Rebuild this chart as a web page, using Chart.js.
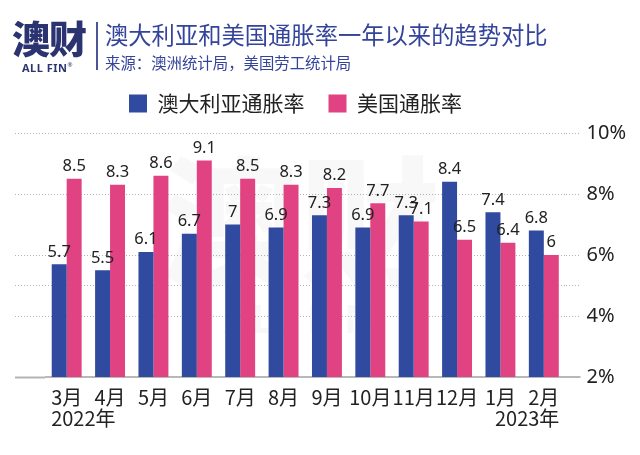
<!DOCTYPE html>
<html>
<head>
<meta charset="utf-8">
<script src="https://cdn.jsdelivr.net/npm/chart.js@4"></script>
<style>
  html, body { margin: 0; padding: 0; background: #fff; }
  #wrap { position: relative; width: 640px; height: 455px; overflow: hidden; font-family: "Noto Sans CJK SC", "Noto Sans", sans-serif; }
  #chart { position: absolute; left: 0; top: 0; }
  .logo { position: absolute; left: 12px; top: 12px; font-size: 38px; font-weight: 900; color: #2b3470; letter-spacing: -1px; line-height: 50px; }
  .logo-sub { position: absolute; left: 22px; top: 58px; font-family: "Noto Sans", sans-serif; font-size: 11px; font-weight: 700; color: #2b3470; line-height: 14px; letter-spacing: 0.5px; }
  .logo-sub sup { font-size: 6px; font-weight: 400; }
  .divider { position: absolute; left: 96px; top: 22px; width: 1.5px; height: 48px; background: #4a5598; }
  .title { position: absolute; left: 105px; top: 18px; font-size: 23.3px; color: #34449a; line-height: 32px; white-space: nowrap; }
  .subtitle { position: absolute; left: 105px; top: 51px; font-size: 15.4px; color: #34449a; line-height: 22px; white-space: nowrap; }
</style>
</head>
<body>
<div id="wrap">
  <canvas id="chart" width="640" height="455"></canvas>
  <div class="logo">澳财</div>
  <div class="logo-sub">ALL FIN<sup>®</sup></div>
  <div class="divider"></div>
  <div class="title">澳大利亚和美国通胀率一年以来的趋势对比</div>
  <div class="subtitle">来源：澳洲统计局，美国劳工统计局</div>
</div>
<script>
const months = ['3月', '4月', '5月', '6月', '7月', '8月', '9月', '10月', '11月', '12月', '1月', '2月'];
const yearLabels = ['2022年', '2023年'];
const seriesNames = ['澳大利亚通胀率', '美国通胀率'];
const australia = [5.7, 5.5, 6.1, 6.7, 7, 6.9, 7.3, 6.9, 7.3, 8.4, 7.4, 6.8];
const usa = [8.5, 8.3, 8.6, 9.1, 8.5, 8.3, 8.2, 7.7, 7.1, 6.5, 6.4, 6];
const gridValues = [2, 4, 5, 6, 8, 10];

const BLUE = '#2f4a9e';
const PINK = '#e04282';
const CJK = '"Noto Sans CJK SC", "Noto Sans", sans-serif';

// faint logo watermark behind the bars
const watermark = {
    id: 'watermark',
    beforeDatasetsDraw(chart) {
        const c = chart.ctx;
        c.save();
        c.fillStyle = 'rgba(0,0,0,0.028)';
        c.textAlign = 'center';
        c.textBaseline = 'middle';
        c.font = '900 140px ' + CJK;
        c.fillText('澳财', 300, 222);
        c.font = '700 40px "Noto Sans", sans-serif';
        c.fillText('ALL FIN', 300, 322);
        c.restore();
    }
};

// value labels above each bar
const valueLabels = {
    id: 'valueLabels',
    afterDatasetsDraw(chart) {
        const c = chart.ctx;
        c.save();
        c.fillStyle = '#222';
        c.font = '16.5px "Noto Sans", sans-serif';
        c.textAlign = 'center';
        c.textBaseline = 'bottom';
        chart.data.datasets.forEach((ds, i) => {
            chart.getDatasetMeta(i).data.forEach((bar, j) => {
                c.fillText(String(ds.data[j]), bar.x, bar.y - 4);
            });
        });
        c.restore();
    }
};

// year under first and last month
const yearTicks = {
    id: 'yearTicks',
    afterDraw(chart) {
        const x = chart.scales.x;
        const c = chart.ctx;
        c.save();
        c.fillStyle = '#222';
        c.font = '20px ' + CJK;
        c.textBaseline = 'middle';
        const y = x.top + 41;
        const first = x.getPixelForValue(0) - c.measureText(months[0]).width / 2;
        c.textAlign = 'left';
        c.fillText(yearLabels[0], first, y);
        const last = x.getPixelForValue(months.length - 1) + c.measureText(months[months.length - 1]).width / 2;
        c.textAlign = 'right';
        c.fillText(yearLabels[1], last, y);
        c.restore();
    }
};

// shift the legend so it sits where the original has it
const legendShift = {
    id: 'legendShift',
    afterLayout(chart) {
        const lg = chart.legend;
        const w = lg.right - lg.left;
        lg.left = 129 - 24;
        lg.right = lg.left + w;
        lg.top -= 9;
        lg.bottom -= 9;
    }
};

const gridOn = (v) => gridValues.includes(v);

new Chart(document.getElementById('chart'), {
    type: 'bar',
    data: {
        labels: months,
        datasets: [
            { label: seriesNames[0], data: australia, backgroundColor: BLUE },
            { label: seriesNames[1], data: usa, backgroundColor: PINK }
        ]
    },
    options: {
        responsive: false,
        animation: false,
        categoryPercentage: 0.69,
        barPercentage: 1,
        layout: { padding: { left: 15, right: 8, top: 78, bottom: 46 } },
        plugins: {
            legend: {
                align: 'start',
                labels: {
                    boxWidth: 18,
                    boxHeight: 18,
                    padding: 24,
                    color: '#222',
                    font: { family: CJK, size: 21 }
                }
            },
            tooltip: { enabled: false }
        },
        scales: {
            x: {
                grid: { display: false },
                border: { display: false },
                ticks: { color: '#222', font: { family: CJK, size: 20 }, padding: 0, maxRotation: 0, autoSkip: false }
            },
            y: {
                position: 'right',
                min: 2,
                max: 10,
                border: {
                    display: false,
                    dash: (ctx) => ctx.tick && ctx.tick.value === 2 ? [] : [1, 2]
                },
                grid: {
                    color: (ctx) => ctx.tick && gridOn(ctx.tick.value) ? (ctx.tick.value === 2 ? '#b8b8b8' : '#b4b4b4') : 'rgba(0,0,0,0)',
                    tickColor: (ctx) => ctx.tick && gridOn(ctx.tick.value) ? (ctx.tick.value === 2 ? '#b8b8b8' : '#b4b4b4') : 'rgba(0,0,0,0)',
                    lineWidth: (ctx) => ctx.tick && ctx.tick.value === 2 ? 2 : 1,
                    tickWidth: (ctx) => ctx.tick && ctx.tick.value === 2 ? 2 : 1,
                    tickBorderDash: (ctx) => ctx.tick && ctx.tick.value === 2 ? [] : [1, 2],
                    tickLength: 15
                },
                ticks: {
                    stepSize: 1,
                    padding: 6,
                    color: '#222',
                    font: { family: '"Noto Sans", sans-serif', size: 20 },
                    callback: (v) => v % 2 === 0 ? v + '%' : ''
                }
            },
            yLeft: {
                position: 'left',
                display: true,
                min: 2,
                max: 10,
                border: { display: false },
                grid: {
                    drawOnChartArea: false,
                    tickLength: 30,
                    tickColor: (ctx) => ctx.tick && gridOn(ctx.tick.value) ? '#b4b4b4' : 'rgba(0,0,0,0)',
                    tickWidth: (ctx) => ctx.tick && ctx.tick.value === 2 ? 2 : 1,
                    tickBorderDash: (ctx) => ctx.tick && ctx.tick.value === 2 ? [] : [1, 2]
                },
                ticks: { display: false, stepSize: 1 }
            }
        }
    },
    plugins: [watermark, valueLabels, yearTicks, legendShift]
});
</script>
</body>
</html>
